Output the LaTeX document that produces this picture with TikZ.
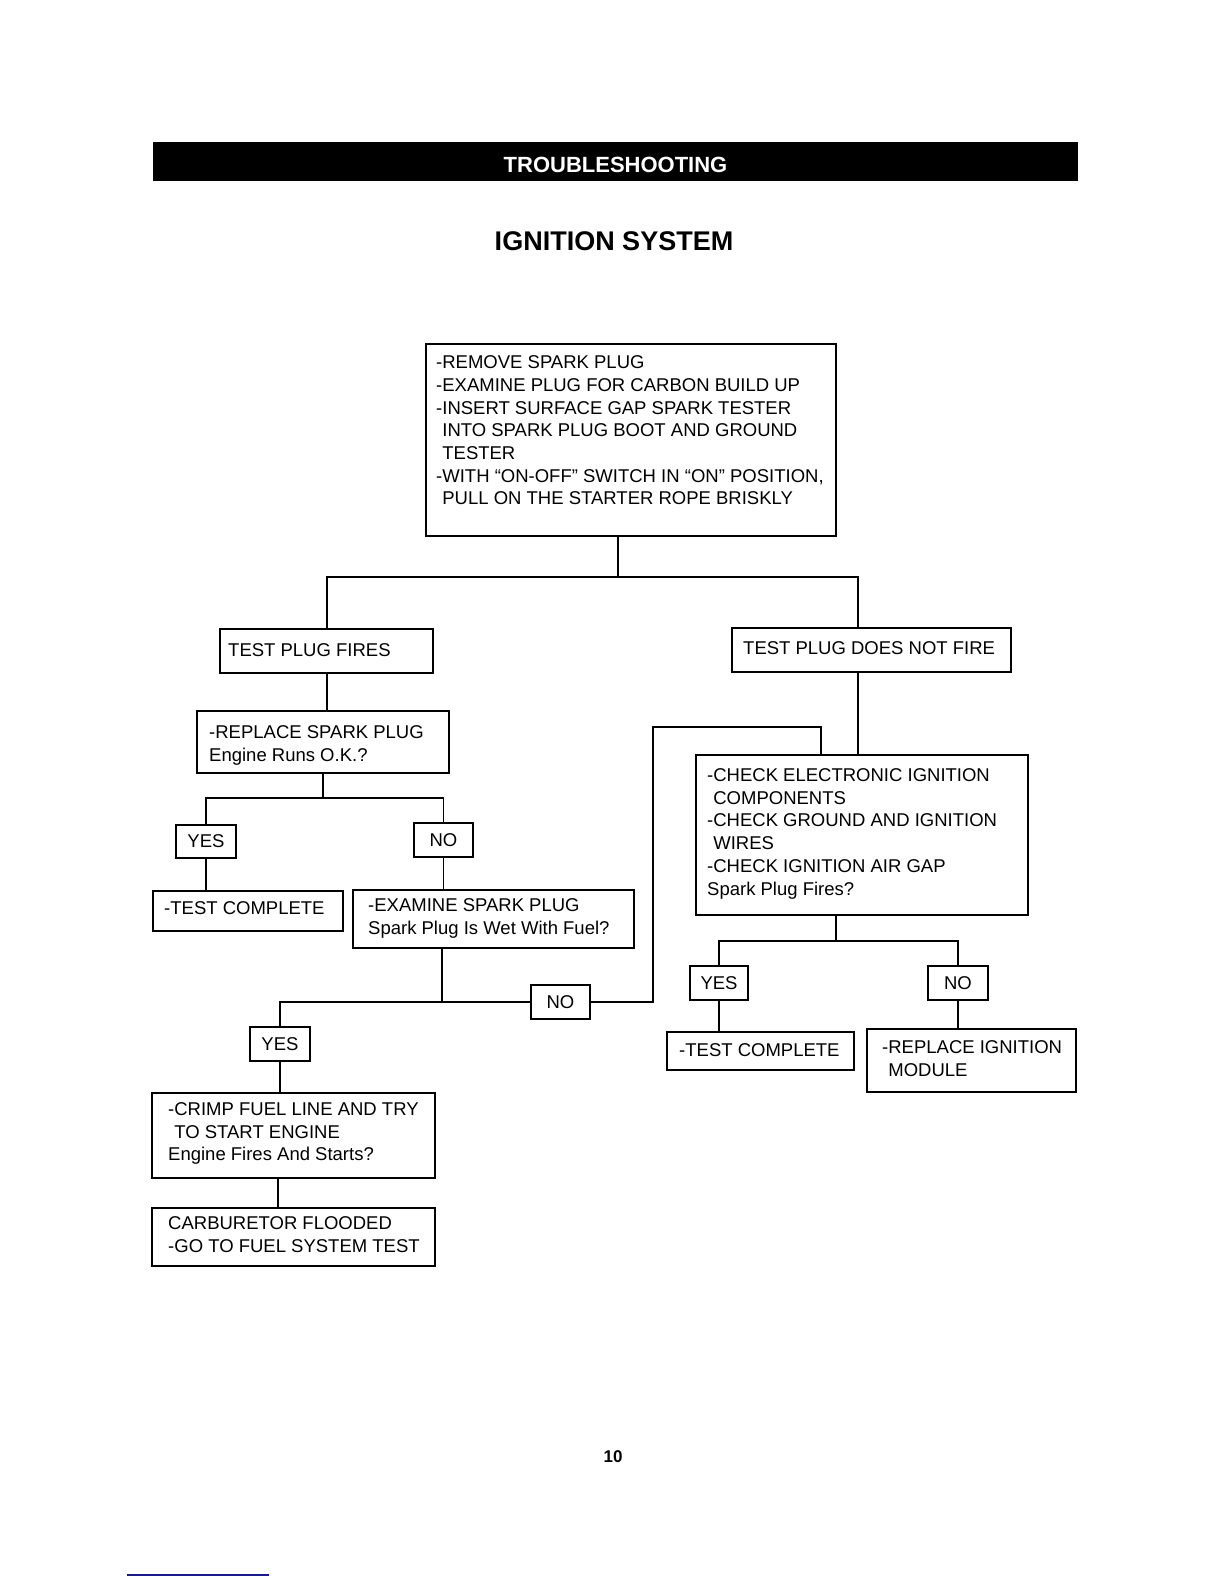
\documentclass[tikz,border=0pt]{standalone}
\usepackage{fontspec}
\setmainfont{Liberation Sans}
\newcommand{\bxfont}{\fontsize{18.5}{22.7}\selectfont}
\definecolor{navyline}{RGB}{25,25,140}
\begin{document}
\begin{tikzpicture}[x=1pt,y=-1pt,
  box/.style={draw, line width=1.8pt, inner sep=0pt, anchor=north west},
  yn/.style={draw, line width=1.8pt, inner sep=0pt, font=\bxfont},
  txt/.style={anchor=north west, inner sep=0pt, align=left, font=\bxfont},
  conn/.style={line width=1.6pt}]
\useasboundingbox (0,0) rectangle (1224,1584);
\fill[white] (0,0) rectangle (1224,1584);

% header
\node[fill=black, inner sep=0pt, minimum width=925, minimum height=39, anchor=north west] (hdr) at (153,142) {};
\node[anchor=base, inner sep=0pt, text=white, font=\fontsize{22}{24}\selectfont\bfseries] (hdrtxt) at (615.5,172) {TROUBLESHOOTING};
\node[anchor=base, inner sep=0pt, font=\fontsize{27}{30}\selectfont\bfseries] (title) at (614,250) {IGNITION SYSTEM};

% boxes
\node[box, minimum width=410, minimum height=192] (box1) at (425,343) {};
\node[txt] (t1) at (436,355.6) {-REMOVE SPARK PLUG\\
-EXAMINE PLUG FOR CARBON BUILD UP\\
-INSERT SURFACE GAP SPARK TESTER\\
\phantom{-}INTO SPARK PLUG BOOT AND GROUND\\
\phantom{-}TESTER\\
-WITH “ON-OFF” SWITCH IN “ON” POSITION,\\
\phantom{-}PULL ON THE STARTER ROPE BRISKLY};

\node[box, minimum width=213, minimum height=44] (tpf) at (219,628) {};
\node[txt] (ttpf) at (228,643.4) {TEST PLUG FIRES};

\node[box, minimum width=279, minimum height=44] (tpdnf) at (731,627) {};
\node[txt] (ttpdnf) at (743,641.4) {TEST PLUG DOES NOT FIRE};

\node[box, minimum width=252, minimum height=62] (rep) at (196,710) {};
\node[txt] (trep) at (209,725.4) {-REPLACE SPARK PLUG\\Engine Runs O.K.?};

\node[yn, minimum width=60, minimum height=33] (yes1) at (206,841.5) {YES};
\node[yn, minimum width=59, minimum height=34] (no1) at (443.5,840) {NO};

\node[box, minimum width=190, minimum height=40] (tc) at (152,890) {};
\node[txt] (ttc) at (164,901.4) {-TEST COMPLETE};

\node[box, minimum width=281, minimum height=58] (ex) at (352,889) {};
\node[txt] (tex) at (368,898.4) {-EXAMINE SPARK PLUG\\Spark Plug Is Wet With Fuel?};

\node[box, minimum width=332, minimum height=160] (check) at (695,754) {};
\node[txt] (tcheck) at (707,768.4) {-CHECK ELECTRONIC IGNITION\\
\phantom{-}COMPONENTS\\
-CHECK GROUND AND IGNITION\\
\phantom{-}WIRES\\
-CHECK IGNITION AIR GAP\\
Spark Plug Fires?};

\node[yn, minimum width=59, minimum height=34] (no2) at (560.5,1002) {NO};
\node[yn, minimum width=60, minimum height=34] (yes2) at (280,1044) {YES};

\node[yn, minimum width=58, minimum height=34] (yes3) at (719,983) {YES};
\node[yn, minimum width=60, minimum height=34] (no3) at (958,983) {NO};

\node[box, minimum width=187, minimum height=38] (tc2) at (666,1031) {};
\node[txt] (ttc2) at (679,1043.4) {-TEST COMPLETE};

\node[box, minimum width=209, minimum height=63] (rim) at (866,1028) {};
\node[txt] (trim) at (882,1040.4) {-REPLACE IGNITION\\\phantom{-}MODULE};

\node[box, minimum width=283, minimum height=85] (crimp) at (151,1092) {};
\node[txt] (tcrimp) at (168,1102.4) {-CRIMP FUEL LINE AND TRY\\
\phantom{-}TO START ENGINE\\
Engine Fires And Starts?};

\node[box, minimum width=283, minimum height=58] (carb) at (151,1207) {};
\node[txt] (tcarb) at (168,1216.4) {CARBURETOR FLOODED\\-GO TO FUEL SYSTEM TEST};

% page number
\node[anchor=base, inner sep=0pt, font=\fontsize{17}{19}\selectfont\bfseries] (pg) at (613,1462) {10};

% connectors
\coordinate (c1) at (618,577);
\coordinate (cL) at (327,577);
\coordinate (cR) at (858,577);
\draw[conn] (box1.south -| c1) -- (c1);
\draw[conn] (tpf.north -| cL) -- (cL) -- (cR) -- (tpdnf.north -| cR);
\draw[conn] (tpf.south -| cL) -- (rep.north -| cL);
\coordinate (c4) at (323,798);
\draw[conn] (rep.south -| c4) -- (c4);
\draw[conn] (yes1.north) |- (c4) -| (no1.north);
\draw[conn] (yes1.south) -- (yes1.south |- tc.north);
\draw[conn] (no1.south) -- (no1.south |- ex.north);
\coordinate (c7) at (442,1002);
\draw[conn] (ex.south -| c7) -- (c7);
\draw[conn] (yes2.north) |- (no2.west);
\coordinate (c8) at (653,727);
\coordinate (c9) at (821,727);
\draw[conn] (no2.east) -| (c8) -- (c9) -- (check.north -| c9);
\draw[conn] (tpdnf.south -| cR) -- (check.north -| cR);
\coordinate (c10) at (836,941);
\draw[conn] (check.south -| c10) -- (c10);
\draw[conn] (yes3.north) |- (c10) -| (no3.north);
\draw[conn] (yes3.south) -- (yes3.south |- tc2.north);
\draw[conn] (no3.south) -- (no3.south |- rim.north);
\draw[conn] (yes2.south) -- (yes2.south |- crimp.north);
\coordinate (c11) at (278,1190);
\draw[conn] (crimp.south -| c11) -- (carb.north -| c11);

% stray blue rule at bottom
\draw[line width=1.5pt, navyline] (127,1575) -- (269,1575);
\end{tikzpicture}
\end{document}
